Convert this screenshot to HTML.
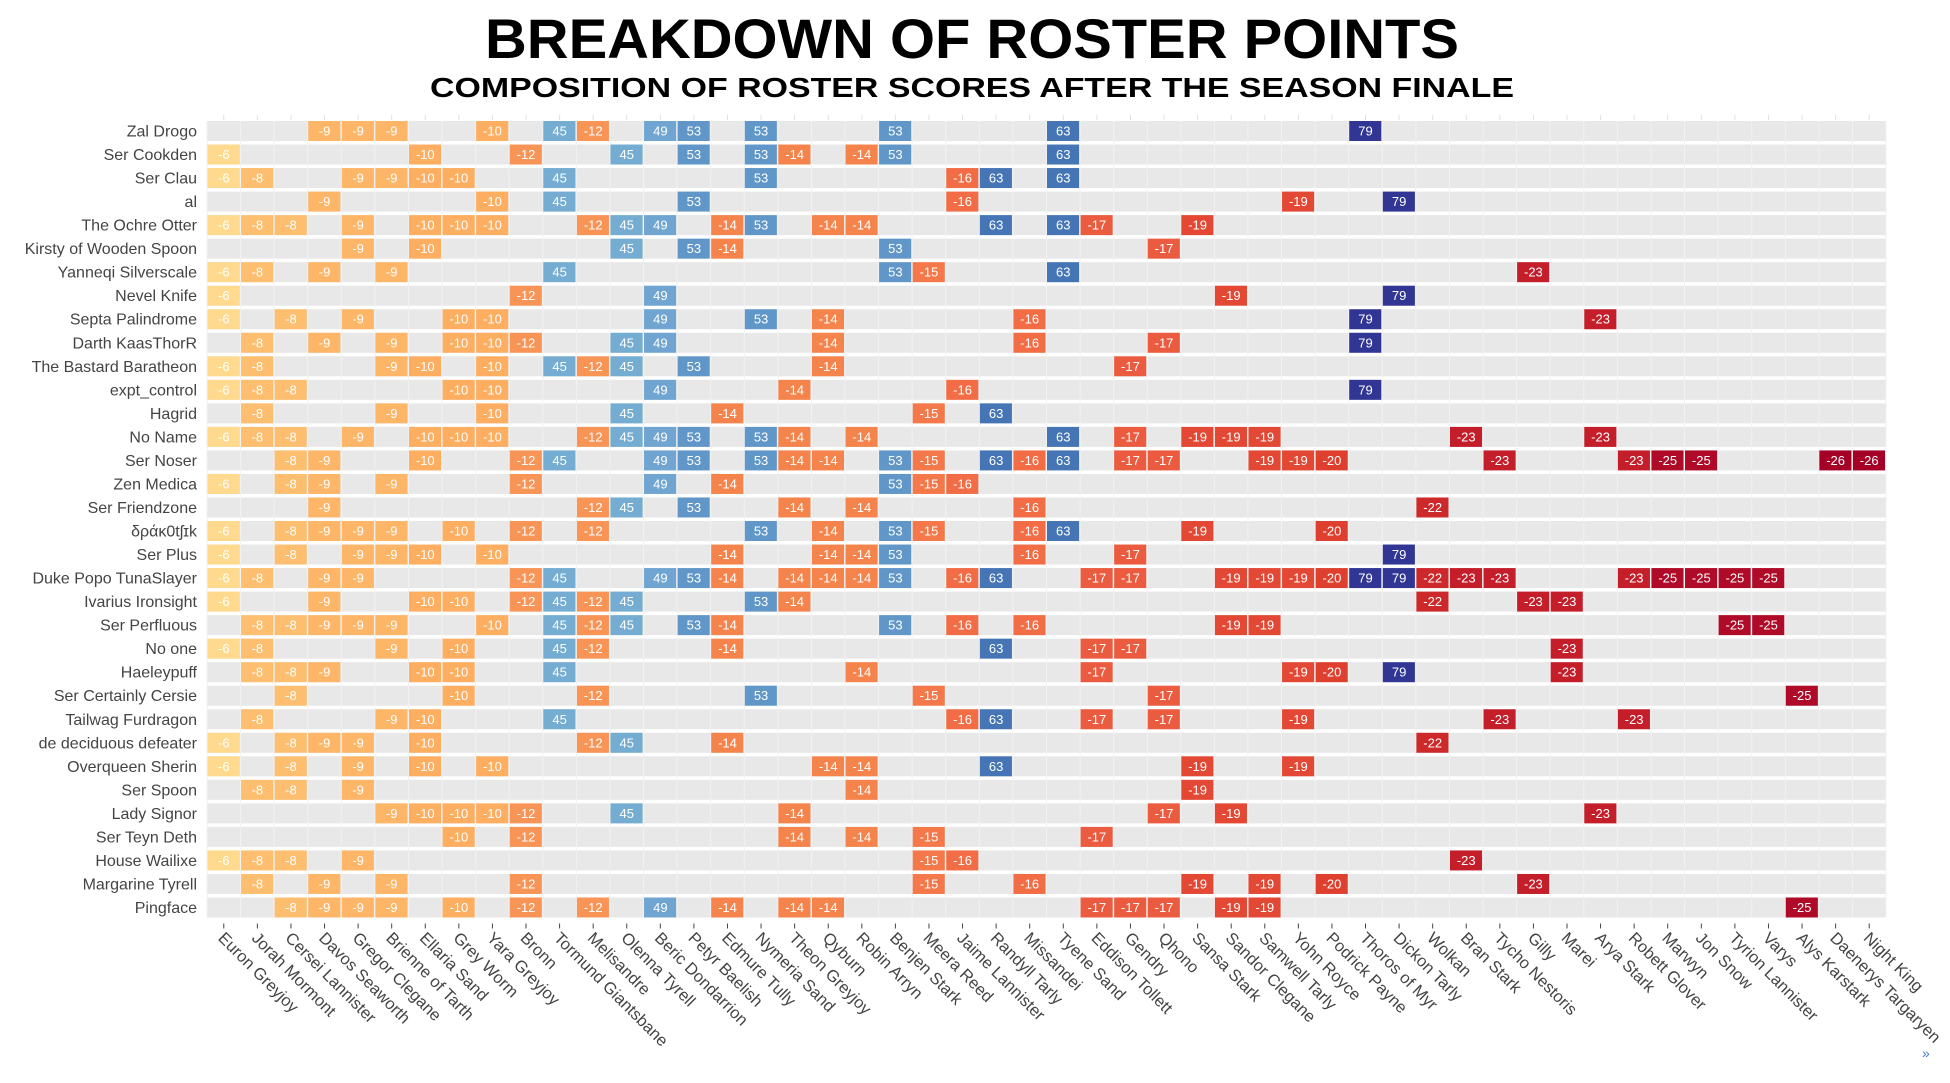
<!DOCTYPE html>
<html><head><meta charset="utf-8">
<style>
html,body{margin:0;padding:0;background:#fff;}
svg{display:block;}
</style></head>
<body>
<svg id="chart" width="1950" height="1083" viewBox="0 0 1950 1083" xmlns="http://www.w3.org/2000/svg">
<text x="972" y="58" text-anchor="middle" font-family="Liberation Sans, sans-serif" font-weight="bold" font-size="56" textLength="974" lengthAdjust="spacingAndGlyphs">BREAKDOWN OF ROSTER POINTS</text>
<text x="972" y="97" text-anchor="middle" font-family="Liberation Sans, sans-serif" font-weight="bold" font-size="28" textLength="1084" lengthAdjust="spacingAndGlyphs">COMPOSITION OF ROSTER SCORES AFTER THE SEASON FINALE</text>
<g id="grid"></g>
<g id="cells"></g>
<g id="ylabels"></g>
<g id="xlabels"></g>
<text x="1922" y="1058" font-family="Liberation Sans, sans-serif" font-size="14" fill="#447adb">»</text>
</svg>
<script>
const characters = ["Euron Greyjoy","Jorah Mormont","Cersei Lannister","Davos Seaworth","Gregor Clegane","Brienne of Tarth","Ellaria Sand","Grey Worm","Yara Greyjoy","Bronn","Tormund Giantsbane","Melisandre","Olenna Tyrell","Beric Dondarrion","Petyr Baelish","Edmure Tully","Nymeria Sand","Theon Greyjoy","Qyburn","Robin Arryn","Benjen Stark","Meera Reed","Jaime Lannister","Randyll Tarly","Missandei","Tyene Sand","Eddison Tollett","Gendry","Qhono","Sansa Stark","Sandor Clegane","Samwell Tarly","Yohn Royce","Podrick Payne","Thoros of Myr","Dickon Tarly","Wolkan","Bran Stark","Tycho Nestoris","Gilly","Marei","Arya Stark","Robett Glover","Marwyn","Jon Snow","Tyrion Lannister","Varys","Alys Karstark","Daenerys Targaryen","Night King"];
const characterPoints = [-6,-8,-8,-9,-9,-9,-10,-10,-10,-12,45,-12,45,49,53,-14,53,-14,-14,-14,53,-15,-16,63,-16,63,-17,-17,-17,-19,-19,-19,-19,-20,79,79,-22,-23,-23,-23,-23,-23,-23,-25,-25,-25,-25,-25,-26,-26];
const players = ["Zal Drogo","Ser Cookden","Ser Clau","al","The Ochre Otter","Kirsty of Wooden Spoon","Yanneqi Silverscale","Nevel Knife","Septa Palindrome","Darth KaasThorR","The Bastard Baratheon","expt_control","Hagrid","No Name","Ser Noser","Zen Medica","Ser Friendzone","δράκ0tʃɪk","Ser Plus","Duke Popo TunaSlayer","Ivarius Ironsight","Ser Perfluous","No one","Haeleypuff","Ser Certainly Cersie","Tailwag Furdragon","de deciduous defeater","Overqueen Sherin","Ser Spoon","Lady Signor","Ser Teyn Deth","House Wailixe","Margarine Tyrell","Pingface"];
const rosters = [
[3,4,5,8,10,11,13,14,16,20,25,34],
[0,6,9,12,14,16,17,19,20,25],
[0,1,4,5,6,7,10,16,22,23,25],
[3,8,10,14,22,32,35],
[0,1,2,4,6,7,8,11,12,13,15,16,18,19,23,25,26,29],
[4,6,12,14,15,20,28],
[0,1,3,5,10,20,21,25,39],
[0,9,13,30,35],
[0,2,4,7,8,13,16,18,24,34,41],
[1,3,5,7,8,9,12,13,18,24,28,34],
[0,1,5,6,8,10,11,12,14,18,27],
[0,1,2,7,8,13,17,22,34],
[1,5,8,12,15,21,23],
[0,1,2,4,6,7,8,11,12,13,14,16,17,19,25,27,29,30,31,37,41],
[2,3,6,9,10,13,14,16,17,18,20,21,23,24,25,27,28,31,32,33,38,42,43,44,48,49],
[0,2,3,5,9,13,15,20,21,22],
[3,11,12,14,17,19,24,36],
[0,2,3,4,5,7,9,11,16,18,20,21,24,25,29,33],
[0,2,4,5,6,8,15,18,19,20,24,27,35],
[0,1,3,4,9,10,13,14,15,17,18,19,20,22,23,26,27,30,31,32,33,34,35,36,37,38,42,43,44,45,46],
[0,3,6,7,9,10,11,12,16,17,36,39,40],
[1,2,3,4,5,8,10,11,12,14,15,20,22,24,30,31,45,46],
[0,1,5,7,10,11,15,23,26,27,40],
[1,2,3,6,7,10,19,26,32,33,35,40],
[2,7,11,16,21,28,47],
[1,5,6,10,22,23,26,28,32,38,42],
[0,2,3,4,6,11,12,15,36],
[0,2,4,6,8,18,19,23,29,32],
[1,2,4,19,29],
[5,6,7,8,9,12,17,28,30,41],
[7,9,17,19,21,26],
[0,1,2,4,21,22,37],
[1,3,5,9,21,24,29,31,33,39],
[2,3,4,5,7,9,11,13,15,17,18,26,27,28,30,31,47]
];
const xAxisTicks = characters;

const NS = "http://www.w3.org/2000/svg";
const X0 = 207, X1 = 1886, Y0 = 121, ROWH = 23.53, CELLH = 20;
const colW = (X1 - X0) / characters.length;
function xPos(i){ return X0 + i * colW; }
function yPos(r){ return Y0 + r * ROWH; }
const stops = [[-26,[165,0,38]],[-23,[196,30,42]],[-20,[222,63,46]],[-17,[235,91,63]],[-16,[242,108,69]],[-14,[245,132,76]],[-12,[249,148,87]],[-10,[253,174,97]],[-8,[253,190,111]],[-6,[254,217,142]],[45,[116,173,209]],[49,[111,165,208]],[53,[97,151,200]],[63,[69,117,180]],[79,[49,54,149]]];
function color(v){
  if (v <= stops[0][0]) return "rgb("+stops[0][1]+")";
  for (let i=1;i<stops.length;i++){
    if (v <= stops[i][0]){
      const a=stops[i-1], b=stops[i], t=(v-a[0])/(b[0]-a[0]);
      const c=a[1].map((x,k)=>Math.round(x+(b[1][k]-x)*t));
      return "rgb("+c.join(",")+")";
    }
  }
  return "rgb("+stops[stops.length-1][1]+")";
}
function mk(tag, attrs, parent){
  const e=document.createElementNS(NS, tag);
  for (const k in attrs) e.setAttribute(k, attrs[k]);
  parent.appendChild(e); return e;
}
const grid=document.getElementById("grid"), cells=document.getElementById("cells"),
      yl=document.getElementById("ylabels"), xl=document.getElementById("xlabels");

players.forEach((p,r)=>{
  const band=mk("rect",{x:X0,y:yPos(r),width:X1-X0,height:CELLH,fill:"#e8e8e8"},grid);
  
  
  const t=mk("text",{x:197,y:yPos(r)+CELLH/2+5.5,"text-anchor":"end","font-family":"Liberation Sans, sans-serif","font-size":"16",fill:"#444"},yl);
  t.textContent=p;
  
  
  rosters[r].forEach(ci=>{
    const v=characterPoints[ci];
    const c=mk("rect",{x:xPos(ci)+0.5,y:yPos(r),width:colW-1.5,height:CELLH,fill:color(v)},cells);
    
    
    const tt=mk("text",{x:xPos(ci)+colW/2,y:yPos(r)+CELLH/2+4.5,"text-anchor":"middle","font-family":"Liberation Sans, sans-serif","font-size":"13",fill:"#fff"},cells);
    tt.textContent=String(v);
    
    
  });
});
for (let i=0;i<=characters.length;i++){
  const l=mk("line",{x1:xPos(i),x2:xPos(i),y1:Y0,y2:yPos(players.length-1)+CELLH,stroke:"#f2f2f2","stroke-width":"1"},grid);
  
  
}
const yBottom = yPos(players.length-1)+CELLH;
xAxisTicks.forEach((n,i)=>{
  const cx=xPos(i)+colW/2;
  const tk=mk("line",{x1:cx,x2:cx,y1:yBottom+6,y2:yBottom+11,stroke:"#444","stroke-width":"1"},xl);
  
  
  const tp=mk("line",{x1:cx,x2:cx,y1:Y0-6,y2:Y0-1,stroke:"#e0e0e0","stroke-width":"1"},grid);
  
  
  const t=mk("text",{x:0,y:0,transform:"translate("+(cx-3)+","+(yBottom+18)+") rotate(45)","font-family":"Liberation Sans, sans-serif","font-size":"16.5",fill:"#444","dominant-baseline":"central"},xl);
  t.textContent=n;
  
  
});
</script>
</body></html>
